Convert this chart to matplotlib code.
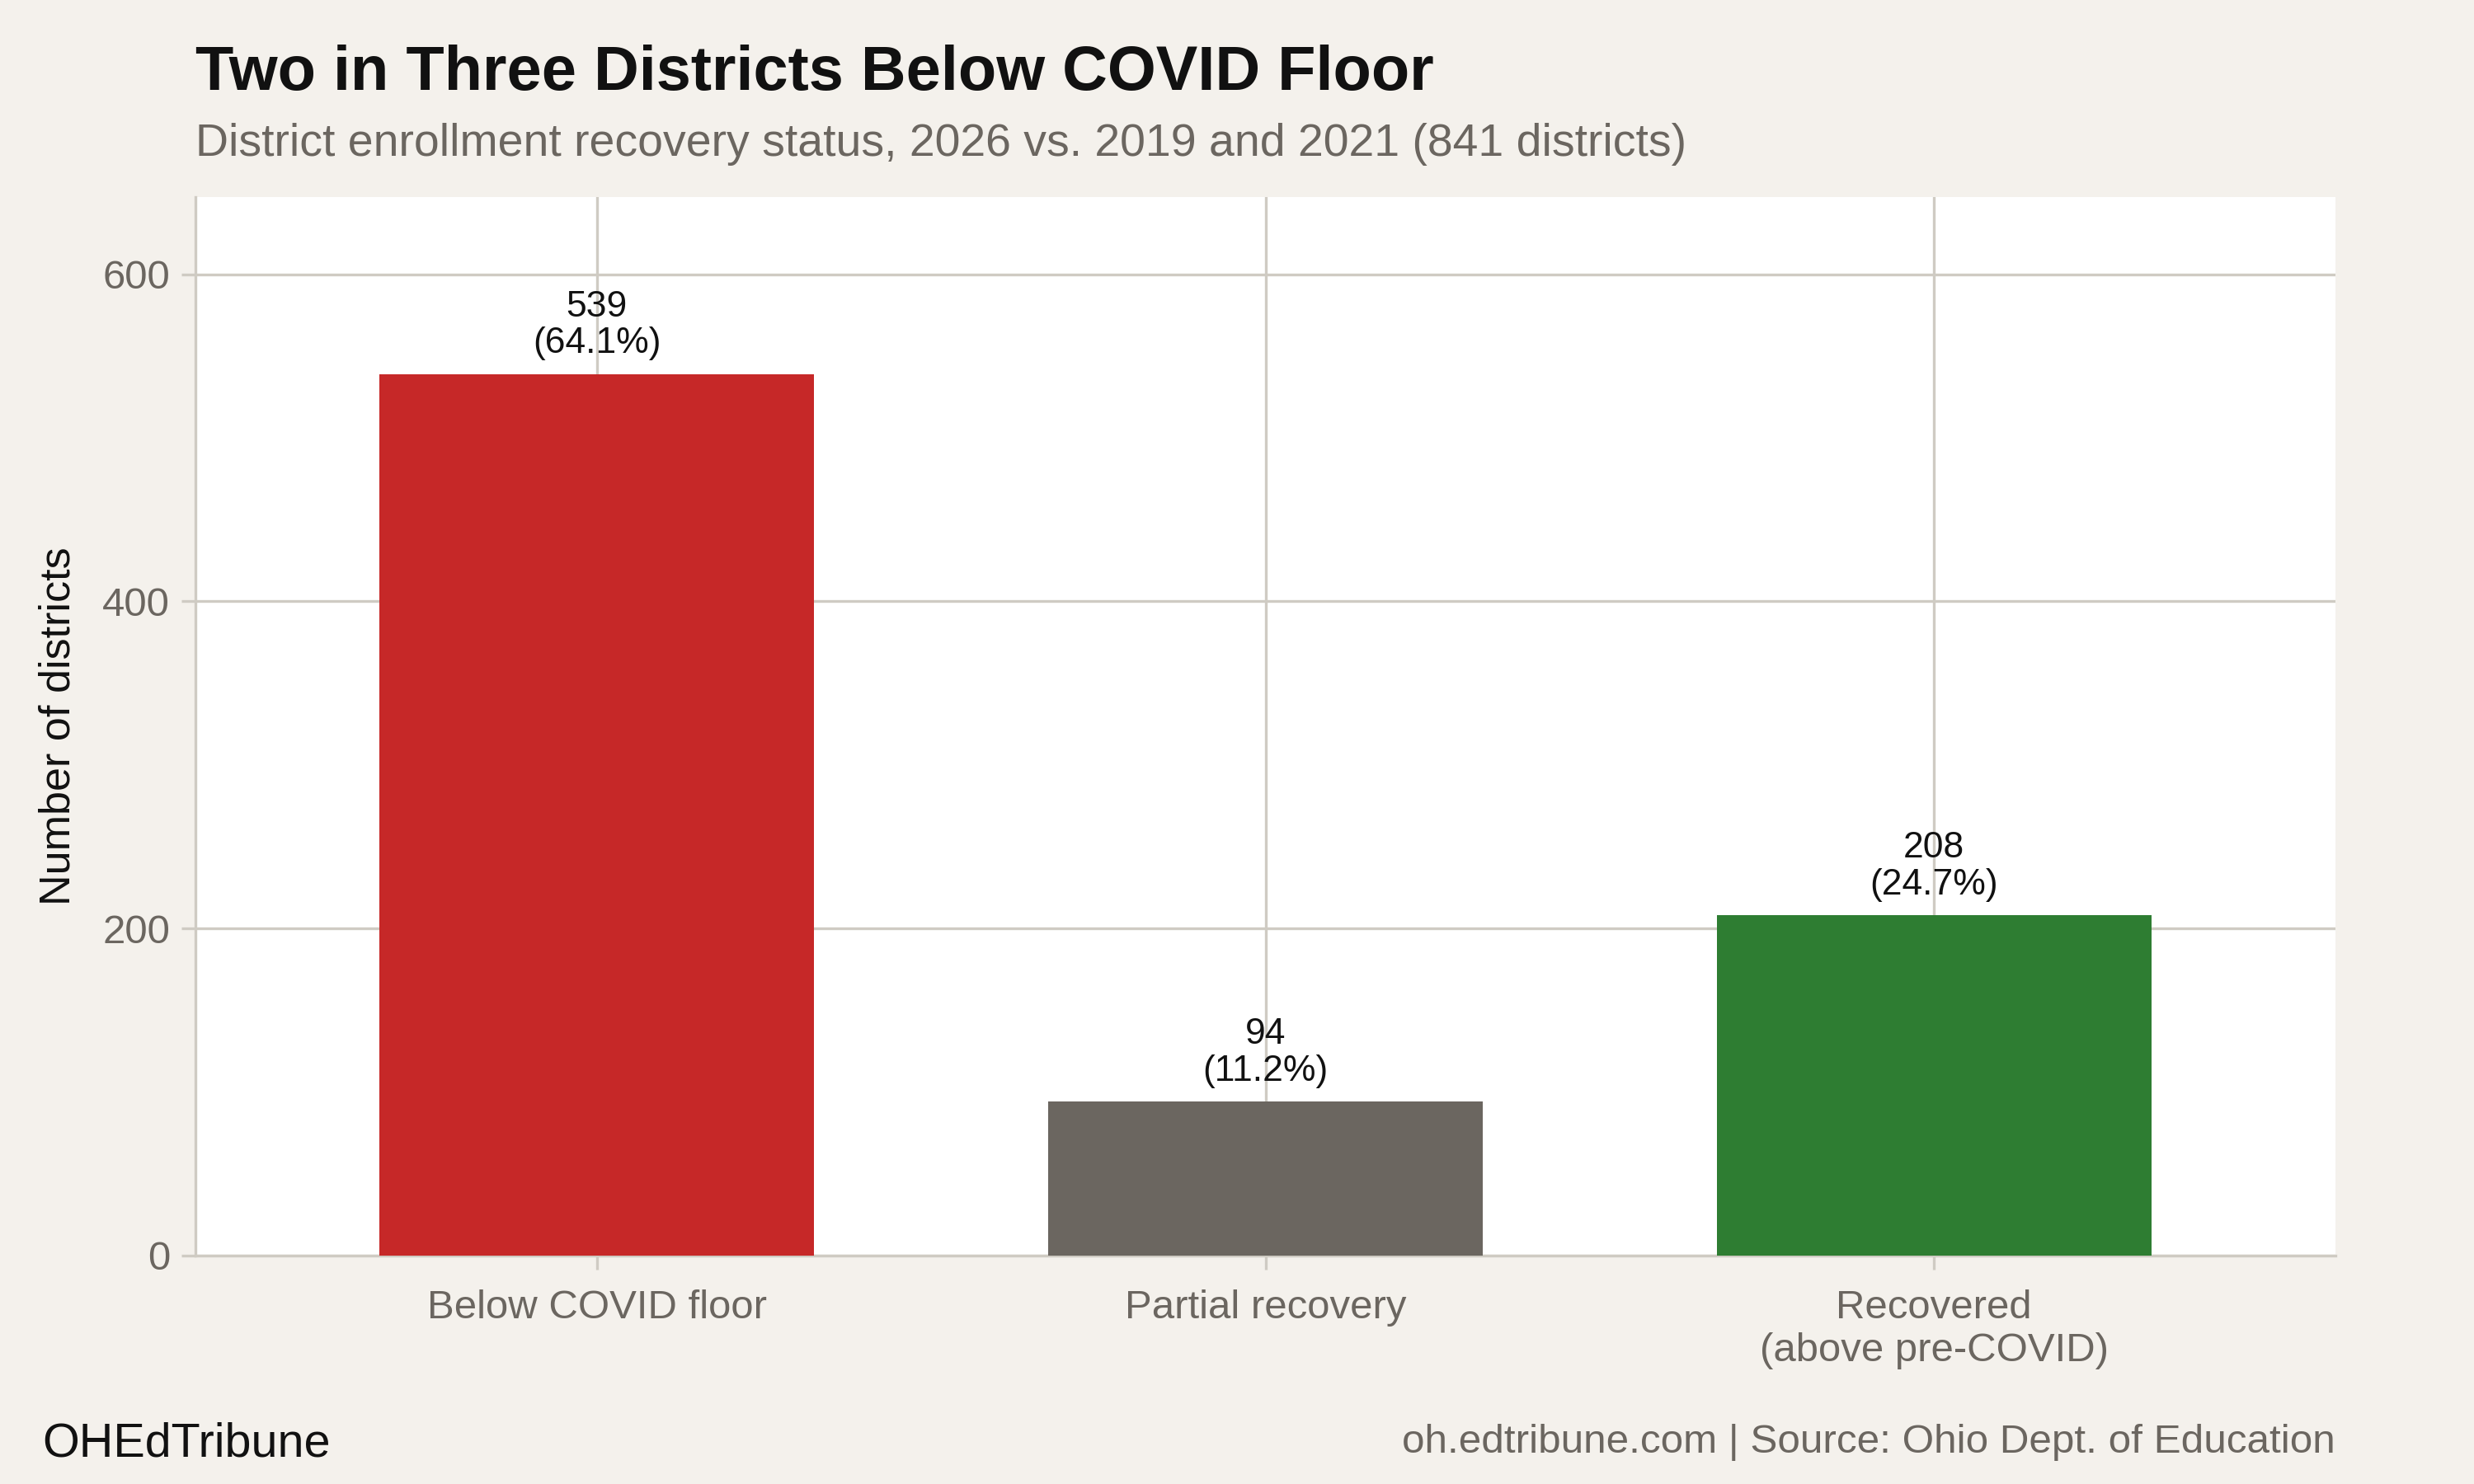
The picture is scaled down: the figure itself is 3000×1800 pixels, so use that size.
import matplotlib
matplotlib.use("Agg")
import matplotlib.pyplot as plt

categories = ["Below COVID floor", "Partial recovery", "Recovered\n(above pre-COVID)"]
counts = [539, 94, 208]
percents = [64.1, 11.2, 24.7]
colors = ["#C62828", "#6B6660", "#2E7D32"]
yticks = [0, 200, 400, 600]

BG = "#F4F1EC"
GRID = "#CFCBC3"
GREY = "#6B6660"

plt.rcParams['font.family'] = ['Liberation Sans', 'DejaVu Sans']

fig = plt.figure(figsize=(10, 6), dpi=300, facecolor=BG)
ax = fig.add_axes([0.0791, 0.154, 0.9439 - 0.0791, 0.867 - 0.154])
ax.set_facecolor("white")

x = list(range(len(categories)))
ax.bar(x, counts, width=0.65, color=colors, zorder=3)

for xi, c, p in zip(x, counts, percents):
    ax.annotate(f"{c}\n({p}%)", xy=(xi, c), xytext=(0, 4), textcoords="offset points",
                ha="center", va="bottom", fontsize=10.7, color="#111111", linespacing=1.1, zorder=4)

ax.set_xlim(-0.6, 2.6)
ax.set_ylim(0, 647)
ax.set_yticks(yticks)
ax.set_xticks(x)
ax.set_xticklabels(categories)
ax.grid(True, color=GRID, linewidth=0.8, zorder=0)
for s in ["top", "right"]:
    ax.spines[s].set_visible(False)
for s in ["left", "bottom"]:
    ax.spines[s].set_color(GRID)
    ax.spines[s].set_linewidth(0.8)
ax.tick_params(axis="both", colors=GRID, labelcolor=GREY, labelsize=11.8, length=4, width=0.8)
ax.tick_params(axis="x", pad=6)
ax.set_ylabel("Number of districts", fontsize=12.5, color="#111111", labelpad=7)

fig.text(0.0791, 0.950, "Two in Three Districts Below COVID Floor", fontsize=18.2, fontweight="bold",
         color="#111111", ha="left", va="center")
fig.text(0.0791, 0.903, "District enrollment recovery status, 2026 vs. 2019 and 2021 (841 districts)",
         fontsize=13.3, color=GREY, ha="left", va="center")
fig.text(0.017, 0.027, "OHEdTribune", fontsize=13.8, color="#111111", ha="left", va="center")
fig.text(0.9439, 0.028, "oh.edtribune.com | Source: Ohio Dept. of Education", fontsize=11.85,
         color=GREY, ha="right", va="center")

fig.savefig("out.png", dpi=300, facecolor=BG)
